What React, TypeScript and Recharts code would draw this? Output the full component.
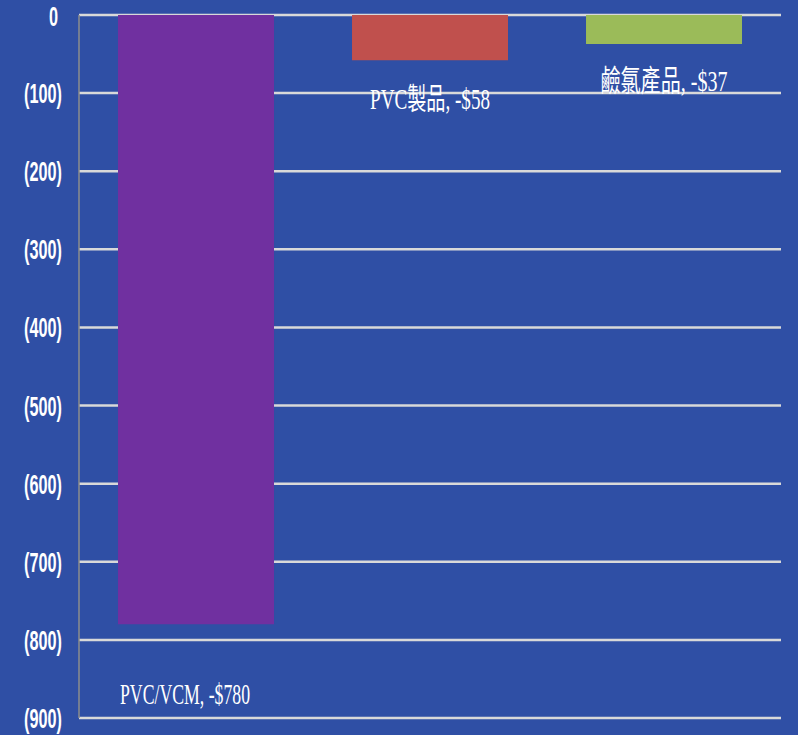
import React from "react";
import { BarChart, Bar, XAxis, YAxis, CartesianGrid, Cell, LabelList } from "recharts";

const categories = ["PVC/VCM", "PVC製品", "鹼氯產品"];
const values = [-780, -58, -37];
const yTicks = [0, -100, -200, -300, -400, -500, -600, -700, -800, -900];

const barColors = ["#7030A0", "#C0504D", "#9BBB59"];
const labelDx = [-11, 0, 0];
const labelDy = [80, 49, 47];
const labelWidths = [130, 120, 127];

const data = categories.map((name, i) => ({ name, value: values[i] }));

const BG = "#2F4FA5";

const YTick = (props: any) => {
  const { x, y, payload } = props;
  const v = payload.value as number;
  const text = v === 0 ? "0" : `(${-v})`;
  const right = v === 0 ? x - 4 : x;
  const base = v === 0 ? 11 : 10;
  return (
    <g transform={`translate(${right}, ${y + base}) scale(0.58, 1)`}>
      <text
        x={0}
        y={0}
        textAnchor="end"
        fill="#FFFFFF"
        fontFamily="'Liberation Sans', 'DejaVu Sans', sans-serif"
        fontWeight="bold"
        fontSize={28}
      >
        {text}
      </text>
    </g>
  );
};

const BarLabel = (props: any) => {
  const { x, y, width, height, index } = props;
  const bottom = Math.max(y, y + height);
  const cx = x + width / 2 + labelDx[index];
  const text = `${categories[index]}, -$${Math.abs(values[index])}`;
  return (
    <text
      x={cx}
      y={bottom + labelDy[index]}
      textAnchor="middle"
      fill="#FFFFFF"
      fontFamily="'Liberation Serif', 'DejaVu Serif', 'Noto Sans CJK TC', serif"
      fontSize={30}
      textLength={labelWidths[index]}
      lengthAdjust="spacingAndGlyphs"
    >
      {text}
    </text>
  );
};

export default function App() {
  return (
    <div style={{ position: "fixed", left: 0, top: 0, width: 798, height: 735, background: BG }}>
      <BarChart
        width={798}
        height={735}
        data={data}
        margin={{ top: 15, right: 17, bottom: 17, left: 0 }}
        barCategoryGap="16.67%"
      >
        <CartesianGrid horizontal={true} vertical={false} stroke="#D9D9D9" strokeWidth={2.5} />
        <XAxis dataKey="name" hide />
        <YAxis
          width={79}
          domain={[-900, 0]}
          ticks={yTicks}
          interval={0}
          tickLine={false}
          tickMargin={11}
          axisLine={{ stroke: "#8C8C8C", strokeWidth: 1.5 }}
          tick={<YTick />}
        />
        <Bar dataKey="value" isAnimationActive={false}>
          {data.map((d, i) => (
            <Cell key={d.name} fill={barColors[i]} />
          ))}
          <LabelList dataKey="value" content={<BarLabel />} />
        </Bar>
      </BarChart>
    </div>
  );
}
